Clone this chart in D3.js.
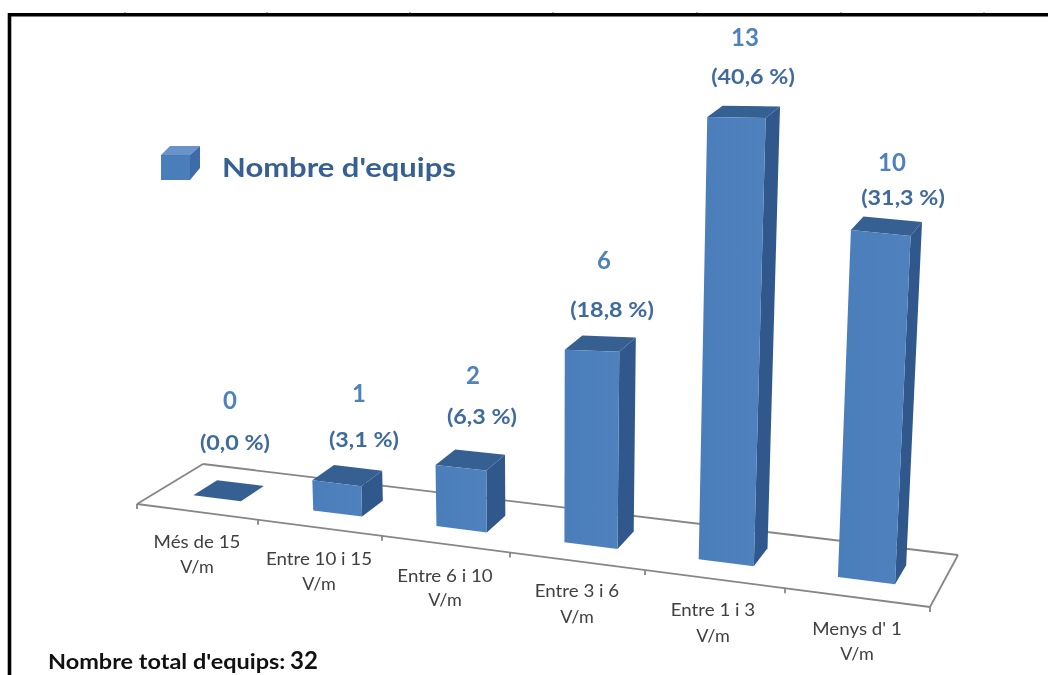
<!DOCTYPE html>
<html><head><meta charset="utf-8">
<script src="https://cdn.jsdelivr.net/npm/d3@7/dist/d3.min.js"></script>
<style>
html,body{margin:0;padding:0;background:#fff;overflow:hidden}
svg{display:block;filter:blur(0.7px)}
text{font-family:Lato,"Open Sans",sans-serif}
</style></head><body>
<svg id="c" width="1048" height="675"></svg>
<script>
// ---- data ----
const categories = ["Més de 15","Entre 10 i 15","Entre 6 i 10","Entre 3 i 6","Entre 1 i 3","Menys d' 1"];
const unitLabel = "V/m";
const values = [0,1,2,6,13,10];
const percents = ["(0,0 %)","(3,1 %)","(6,3 %)","(18,8 %)","(40,6 %)","(31,3 %)"];
const legendLabel = "Nombre d'equips";
const totalLabel = "Nombre total d'equips:";
const totalValue = "32";

// ---- perspective calibration ----
const slots = d3.range(categories.length + 1);
const frontPx = [137,258,382,510,645,785,930];
const frontX = d3.scaleLinear().domain(slots).range(frontPx);
const frontY = d3.scaleLinear().domain([137,930]).range([504,607]);
const backOfFront = d3.scaleLinear().domain([137,930]).range([203,958]);
const backY = d3.scaleLinear().domain([203,958]).range([464,555]);
const heightPx = d3.scaleLinear().domain([0,13]).range([0,448]);
const depthFactor = d3.scaleLinear().domain([1.5,2.5,3.5,4.5,5.5]).range([.877,.89,.944,1,1.01]);
const leanAt = d3.scaleLinear().domain([550,950]).range([0,.052]);

function project(u, v, value){
  const fx = frontX(u), bx = backOfFront(fx);
  const x0 = fx + (bx - fx) * v;
  const y0 = frontY(fx) + (backY(bx) - frontY(fx)) * v;
  const h = heightPx(value) * depthFactor(u) * (1 - .04 * (v - .3));
  return [x0 + h * leanAt(x0), y0 - h];
}

// horizontally stretch text to the proportions of the original
function widen(sel, k){
  sel.each(function(){
    const w = this.getComputedTextLength();
    d3.select(this).attr("textLength", w * k).attr("lengthAdjust","spacingAndGlyphs");
  });
  return sel;
}

const svg = d3.select("#c");
const defs = svg.append("defs");
const grad = defs.append("linearGradient").attr("id","front");
grad.append("stop").attr("offset","0").attr("stop-color","#4a7ebb");
grad.append("stop").attr("offset","1").attr("stop-color","#4f81bd");

// page frame
svg.append("g").selectAll("line").data([125,267,410,553,697,841,984]).join("line")
  .attr("x1",d=>d).attr("x2",d=>d).attr("y1",12).attr("y2",14).attr("stroke","#777").attr("stroke-width",1);
svg.append("path").attr("d",d3.line()([[9.5,675],[9.5,14.8],[1048,14.8]]))
  .attr("fill","none").attr("stroke","#000").attr("stroke-width",3.6);

// floor
const line = d3.line();
const axisColor = "#868686";
const floor = svg.append("g").attr("fill","none").attr("stroke",axisColor).attr("stroke-width",1.8);
const last = categories.length;
floor.append("path").attr("d",line([project(0,0,0),project(0,1,0)]));
floor.append("path").attr("d",line([project(0,1,0),project(last,1,0)]));
floor.append("path").attr("d",line([project(last,1,0),project(last,0,0)]));

// bars
const barL = .29, barR = .69, barF = .33, barB = .7;
const poly = pts => line(pts) + "Z";
const bars = svg.append("g").selectAll("g").data(values).join("g");
bars.each(function(d,i){
  const g = d3.select(this);
  if (d > 0) g.append("path").attr("fill","#30588c")
    .attr("d",poly([project(i+barR,barF,0),project(i+barR,barB,0),project(i+barR,barB,d),project(i+barR,barF,d)]));
  g.append("path").attr("fill","#376092")
    .attr("d",poly([project(i+barL,barF,d),project(i+barR,barF,d),project(i+barR,barB,d),project(i+barL,barB,d)]));
  if (d > 0) g.append("path").attr("fill","url(#front)")
    .attr("d",poly([project(i+barL,barF,0),project(i+barR,barF,0),project(i+barR,barF,d),project(i+barL,barF,d)]));
});

// front axis with ticks
const axisG = svg.append("g").attr("fill","none").attr("stroke",axisColor).attr("stroke-width",1.8);
axisG.append("path").attr("d",line([project(0,0,0),project(last,0,0)]));
axisG.selectAll("line").data(slots).join("line")
  .attr("x1",d=>project(d,0,0)[0]).attr("x2",d=>project(d,0,0)[0])
  .attr("y1",d=>project(d,0,0)[1]).attr("y2",d=>project(d,0,0)[1]+5);

// category labels
const catLayout = [[197,548,573],[319,565,590],[445,582,606],[577,597,623],[713,616,642],[857,635,660]];
const cat = svg.append("g").attr("fill","#404040").attr("font-size",18).attr("text-anchor","middle");
widen(cat.selectAll(".a").data(categories).join("text").attr("class","a")
  .attr("x",(d,i)=>catLayout[i][0]).attr("y",(d,i)=>catLayout[i][1]).text(d=>d),1.04);
cat.selectAll(".b").data(categories).join("text").attr("class","b")
  .attr("x",(d,i)=>catLayout[i][0]).attr("y",(d,i)=>catLayout[i][2]).text(unitLabel);

// value + percentage labels
const valLayout = [[230,409],[359,402],[473,384],[604,269],[745,46],[892,171]];
const pctLayout = [[235,450],[364,447],[482,424],[612,317],[753,84],[903,205]];
svg.append("g").attr("fill","#4f81bd").attr("font-size",24).attr("font-weight",700).attr("text-anchor","middle")
  .selectAll("text").data(values).join("text")
  .attr("x",(d,i)=>valLayout[i][0]).attr("y",(d,i)=>valLayout[i][1]).text(d=>d);
widen(svg.append("g").attr("fill","#3f6a9f").attr("font-size",21).attr("font-weight",700).attr("text-anchor","middle")
  .selectAll("text").data(percents).join("text")
  .attr("x",(d,i)=>pctLayout[i][0]).attr("y",(d,i)=>pctLayout[i][1]).text(d=>d),1.11);

// legend
const lg = svg.append("g");
lg.append("path").attr("fill","#6a94c9").attr("d",poly([[161,155],[190,155],[200,146],[170,146]]));
lg.append("path").attr("fill","#3e6ca6").attr("d",poly([[190,155],[200,146],[200,168],[190,180]]));
lg.append("rect").attr("x",161).attr("y",155).attr("width",29).attr("height",25).attr("fill","#4a7ebb");
widen(lg.append("text").attr("x",222).attr("y",177).attr("fill","#366092").attr("font-size",27).attr("font-weight",700).text(legendLabel),1.147);

// total
widen(svg.append("text").attr("x",48).attr("y",669).attr("fill","#111").attr("font-weight",700).attr("font-size",20.5).text(totalLabel),1.145);
svg.append("text").attr("x",290).attr("y",669).attr("fill","#111").attr("font-weight",700).attr("font-size",24).text(totalValue);
</script>
</body></html>
